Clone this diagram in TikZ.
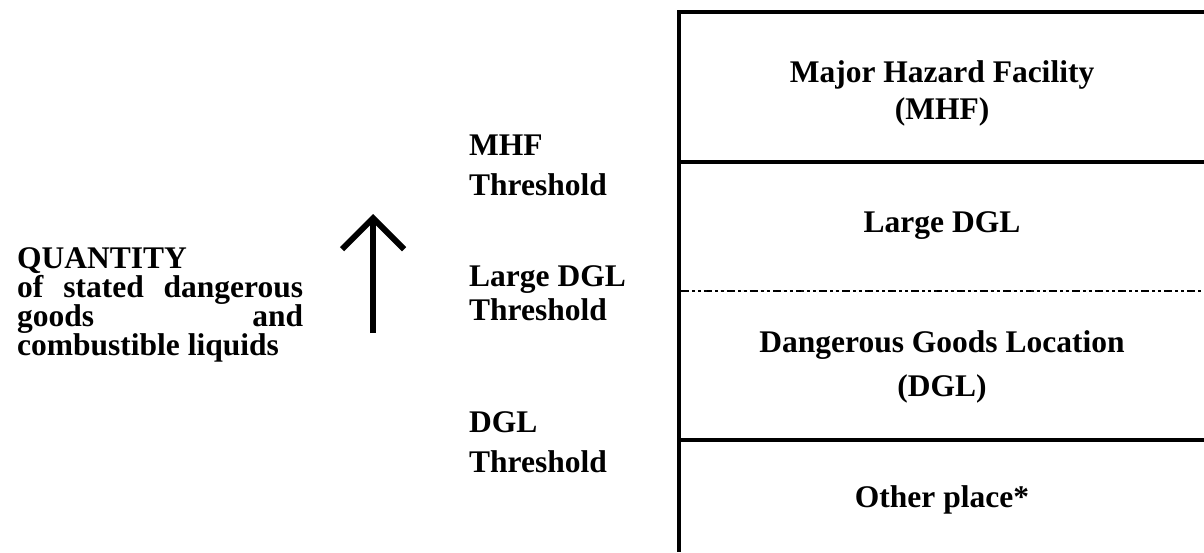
\documentclass[tikz,border=0pt]{standalone}
\usepackage{fontspec}
\setmainfont{Liberation Serif}
\usetikzlibrary{arrows.meta}

\begin{document}
\begin{tikzpicture}[
    x=1pt, y=-1pt,
    every node/.style={inner sep=0pt, font=\bfseries\fontsize{31.5}{37}\selectfont},
    zone/.style={anchor=base, align=center},
    thresh/.style={anchor=base west, align=left, font=\bfseries\fontsize{31.5}{40}\selectfont},
    frameline/.style={line width=4.5pt},
    dashline/.style={line width=2pt, dash pattern=on 8pt off 3pt on 3pt off 3pt on 3pt off 3pt},
    uparrow/.style={line width=6pt, -{Straight Barb[length=31pt,width=62pt]}}
]
  \useasboundingbox (0,0) rectangle (1204,552);

  % frame of the scale
  \coordinate (TL) at (679,12);
  \coordinate (TR) at (1204,12);
  \coordinate (BL) at (679,552);
  \coordinate (L1) at (679,162);
  \coordinate (R1) at (1204,162);
  \coordinate (L2) at (681,291);
  \coordinate (R2) at (1204,291);
  \coordinate (L3) at (679,440);
  \coordinate (R3) at (1204,440);

  \draw[frameline] (TR) -- (TL) -- (BL);
  \draw[frameline] (L1) -- (R1);
  \draw[dashline] (L2) -- (R2);
  \draw[frameline] (L3) -- (R3);

  % zones (base = last line)
  \node[zone] (mhf) at (942,119) {Major Hazard Facility\\(MHF)};
  \node[zone] (large) at (942,232) {Large DGL};
  \node[zone] (dgl) at (942,396) {Dangerous Goods Location\\[7pt](DGL)};
  \node[zone] (other) at (942,507) {Other place*};

  % thresholds
  \node[thresh] (mhfthr) at (469,195) {MHF\\Threshold};
  \node[thresh, font=\bfseries\fontsize{31.5}{34}\selectfont] (largethr) at (469,320) {Large DGL\\Threshold};
  \node[thresh] (dglthr) at (469,472) {DGL\\Threshold};

  % quantity
  \node[anchor=base west, text width=286pt, align=justify,
        font=\bfseries\fontsize{31.5}{29}\selectfont] (qty) at (17,268)
        {QUANTITY\\ of\hfill stated\hfill dangerous\\ goods\hfill and\\ combustible liquids};

  \coordinate (abot) at (373,333);
  \coordinate (atop) at (373,214);
  \draw[uparrow] (abot) -- (atop);
\end{tikzpicture}
\end{document}
